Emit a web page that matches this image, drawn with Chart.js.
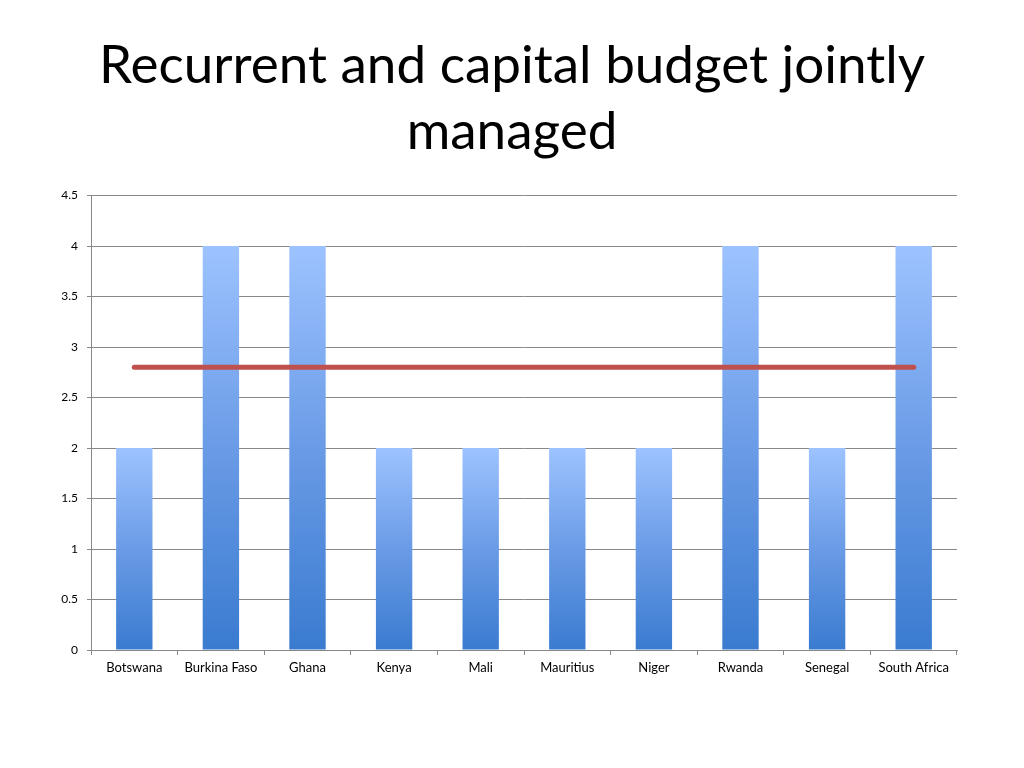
<!DOCTYPE html>
<html>
<head>
<meta charset="utf-8">
<script src="https://cdn.jsdelivr.net/npm/chart.js@4"></script>
<style>
  html, body { margin: 0; padding: 0; background: #fff; }
  #wrap { width: 1024px; height: 768px; }
</style>
</head>
<body>
<div id="wrap"><canvas id="grafico"></canvas></div>
<script>
// dados do grafico
var paises = ['Botswana', 'Burkina Faso', 'Ghana', 'Kenya', 'Mali', 'Mauritius', 'Niger', 'Rwanda', 'Senegal', 'South Africa'];
var notas = [2, 4, 4, 2, 2, 2, 2, 4, 2, 4];
var media = [2.8, 2.8, 2.8, 2.8, 2.8, 2.8, 2.8, 2.8, 2.8, 2.8];
var titulo = ['Recurrent and capital budget jointly', 'managed'];

// gradiente de cada barra, claro em cima e escuro em baixo
function corBarra(ctx) {
    var chart = ctx.chart;
    if (!chart.chartArea || ctx.type !== 'data') return '#6a9ee8';
    var y = chart.scales.y;
    var topo = y.getPixelForValue(ctx.raw);
    var base = y.getPixelForValue(0);
    var g = chart.ctx.createLinearGradient(0, topo, 0, base);
    g.addColorStop(0, '#9dc3ff');
    g.addColorStop(0.5, '#6a9be6');
    g.addColorStop(1, '#3a7bd0');
    return g;
}

var fonte = "Lato, 'Open Sans', sans-serif";

new Chart(document.getElementById('grafico'), {
    data: {
        labels: paises,
        datasets: [
            {
                type: 'line',
                data: media,
                borderColor: '#c0504d',
                borderWidth: 5,
                borderCapStyle: 'round',
                pointRadius: 0,
                order: 0
            },
            {
                type: 'bar',
                data: notas,
                backgroundColor: corBarra,
                categoryPercentage: 1,
                barPercentage: 0.42,
                order: 1
            }
        ]
    },
    options: {
        responsive: true,
        maintainAspectRatio: false,
        animation: false,
        layout: { padding: 0 },
        plugins: {
            legend: { display: false },
            tooltip: { enabled: false },
            title: {
                display: true,
                text: titulo,
                color: '#000',
                font: { family: fonte, size: 53, weight: 'normal', lineHeight: 1.25 },
                padding: { top: 33, bottom: 30 }
            }
        },
        scales: {
            x: {
                afterFit: function (s) { s.height = 118; },
                grid: { drawOnChartArea: false, drawTicks: true, tickLength: 5, color: '#888' },
                border: { color: '#888' },
                ticks: { color: '#000', font: { family: fonte, size: 13 }, padding: 5, maxRotation: 0 }
            },
            y: {
                min: 0,
                max: 4.5,
                afterFit: function (s) { s.width = 91; },
                grid: { color: '#888', tickLength: 4 },
                border: { color: '#888' },
                ticks: {
                    stepSize: 0.5,
                    color: '#000',
                    font: { family: fonte, size: 12 },
                    padding: 9,
                    callback: function (v) { return String(v); }
                }
            },
            // escala vazia so para reservar a margem da direita
            margem: {
                type: 'linear',
                position: 'right',
                afterFit: function (s) { s.width = 67; },
                grid: { display: false },
                border: { display: false },
                ticks: { display: false }
            }
        }
    }
});
</script>
</body>
</html>
